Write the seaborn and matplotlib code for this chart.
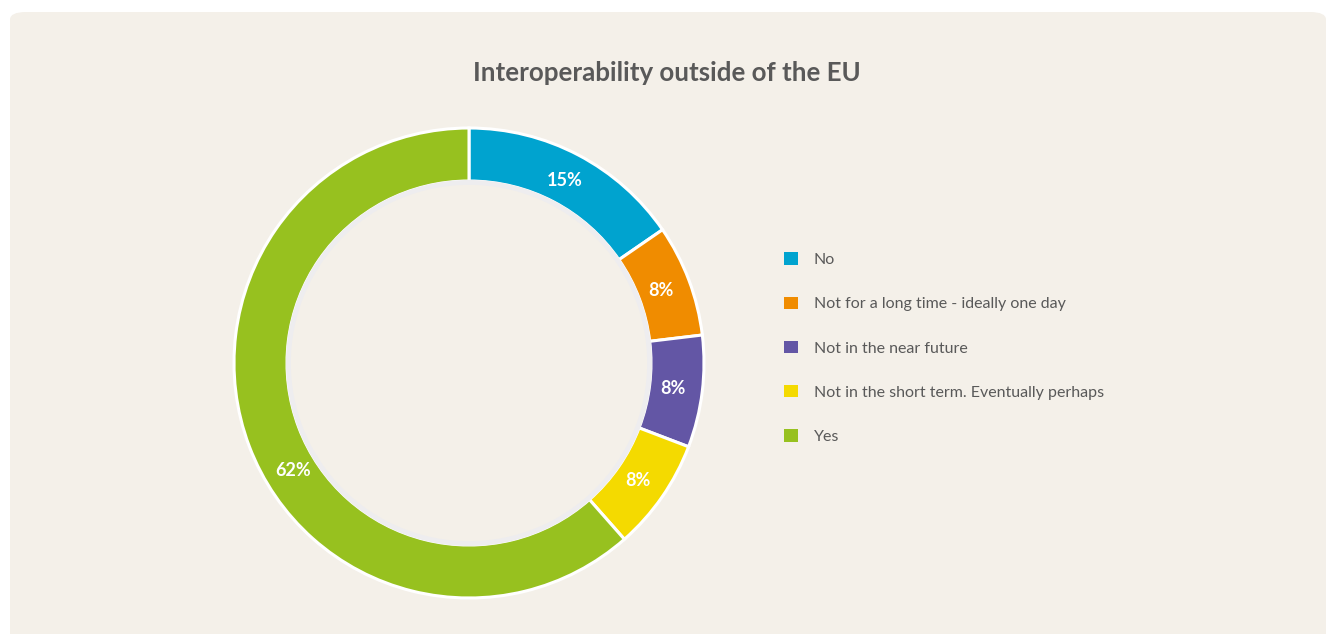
import matplotlib
matplotlib.use("Agg")
import numpy as np
import matplotlib.pyplot as plt
from matplotlib.patches import FancyBboxPatch, Circle, Patch
import seaborn as sns

categories = ["No", "Not for a long time - ideally one day", "Not in the near future",
              "Not in the short term. Eventually perhaps", "Yes"]
values = [15.4, 7.7, 7.7, 7.7, 61.5]
colors = ["#00A3CF", "#F08C00", "#6356A5", "#F4DA00", "#97C11F"]
title = "Interoperability outside of the EU"

sns.set_theme(style="white")
plt.rcParams["font.family"] = ["Lato", "DejaVu Sans"]

W, H = 1330, 634
fig = plt.figure(figsize=(W / 100, H / 100), dpi=100, facecolor="white")

bg = FancyBboxPatch((10 / W, -20 / H), 1316 / W, (H - 12 + 20) / H,
                    boxstyle="round,pad=0,rounding_size=0.012",
                    transform=fig.transFigure, facecolor="#F4F0E9",
                    edgecolor="none", zorder=-10)
fig.patches.append(bg)

cx, cy, R = 469, H - 363, 235
ax = fig.add_axes([(cx - R) / W, (cy - R) / H, 2 * R / W, 2 * R / H], zorder=2)
ax.set_facecolor("none")
ax.patch.set_alpha(0)

inner = 182 / 235
pctd = 0.875
wedges, texts, autotexts = ax.pie(
    values, colors=sns.color_palette(colors), startangle=90, counterclock=False,
    radius=1, autopct=lambda p: f"{p:.0f}%", pctdistance=pctd,
    wedgeprops=dict(width=1 - inner, edgecolor="white", linewidth=2.2),
    textprops=dict(color="white", fontsize=13, fontweight="bold"))
# the large "Yes" label sits in the lower-left part of its wedge, as in the reference
ang = np.deg2rad(211.4)
autotexts[4].set_position((pctd * np.cos(ang), pctd * np.sin(ang)))
ax.add_patch(Circle((0, 0), inner - 0.006, fill=False, edgecolor="#EEEDEF", linewidth=3.5, zorder=3))
ax.set_xlim(-1.0, 1.0)
ax.set_ylim(-1.0, 1.0)
ax.axis("off")

fig.text(0.5015, 1 - 73 / H, title, ha="center", va="center", fontsize=18.6,
         fontweight="bold", color="#595959")

handles = [Patch(facecolor=c, edgecolor="none") for c in colors]
leg = fig.legend(handles, categories, loc="upper left",
                 bbox_to_anchor=(770 / W, 1 - 238 / H), frameon=False,
                 fontsize=11.5, labelcolor="#595959", handlelength=0.85, handleheight=0.85,
                 handletextpad=1.0, labelspacing=1.83)

fig.savefig("out.png", dpi=100, facecolor="white")
